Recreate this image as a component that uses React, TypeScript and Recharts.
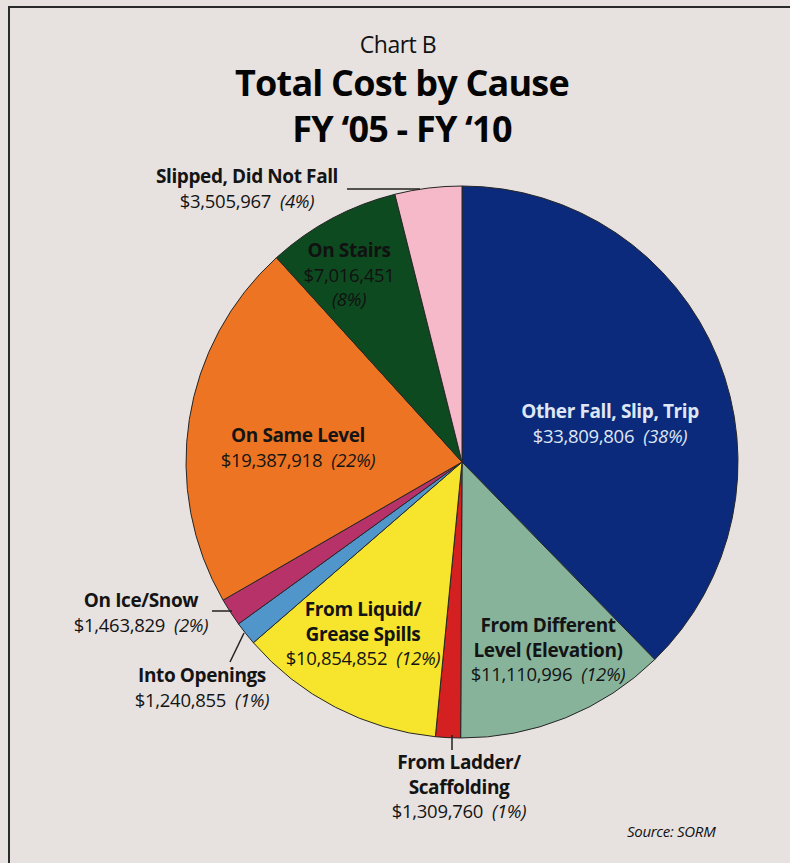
import React from "react";
import { PieChart, Pie, Cell } from "recharts";

const CAUSES = [
  "Other Fall, Slip, Trip",
  "From Different Level (Elevation)",
  "From Ladder/Scaffolding",
  "From Liquid/Grease Spills",
  "Into Openings",
  "On Ice/Snow",
  "On Same Level",
  "On Stairs",
  "Slipped, Did Not Fall",
];
const NAME_LINES = [
  ["Other Fall, Slip, Trip"],
  ["From Different", "Level (Elevation)"],
  ["From Ladder/", "Scaffolding"],
  ["From Liquid/", "Grease Spills"],
  ["Into Openings"],
  ["On Ice/Snow"],
  ["On Same Level"],
  ["On Stairs"],
  ["Slipped, Did Not Fall"],
];
const COSTS = [
  33809806, 11110996, 1309760, 10854852, 1240855, 1463829, 19387918, 7016451,
  3505967,
];
const COLORS = [
  "#0c2a7c",
  "#88b39b",
  "#d42020",
  "#f6e52c",
  "#5096cb",
  "#b8326a",
  "#ed7422",
  "#0e4a20",
  "#f5b9c9",
];

const TOTAL = COSTS.reduce((a, b) => a + b, 0);
const data = CAUSES.map((c, i) => ({ name: c, value: COSTS[i] }));

// label layout: center x / first baseline y relative to pie center
type LL = {
  dx: number;
  dy: number;
  color: string;
  splitPct?: boolean;
  leader?: [number, number, number, number];
};
const LABEL_LAYOUT: LL[] = [
  { dx: 148, dy: -44, color: "#dfe6f4" },
  { dx: 86, dy: 170, color: "#141414" },
  { dx: -3, dy: 307, color: "#141414", leader: [-10, 273, -10, 288] },
  { dx: -99, dy: 154, color: "#141414" },
  { dx: -260, dy: 220, color: "#141414", leader: [-218, 171, -232, 200] },
  { dx: -321, dy: 145, color: "#141414", leader: [-250, 149, -230, 149] },
  { dx: -164, dy: -20, color: "#141414" },
  { dx: -113, dy: -205, color: "#111111", splitPct: true },
  { dx: -215, dy: -279, color: "#141414", leader: [-115, -273, -42, -273] },
];

const FONT = "'Open Sans', 'Noto Sans', sans-serif";
const LINE = 24.5;
const BOLD_SIZE = 19;
const REG_SIZE = 18.5;

const fmt = (v: number) => "$" + v.toLocaleString("en-US");

const renderLabel = (props: any) => {
  const { cx, cy, index } = props;
  const L = LABEL_LAYOUT[index];
  const x = cx + L.dx;
  let y = cy + L.dy;
  const names = NAME_LINES[index];
  const pct = Math.round((COSTS[index] / TOTAL) * 100) + "%";
  const els: any[] = [];
  names.forEach((n, k) => {
    els.push(
      <text
        key={"n" + k}
        x={x}
        y={y}
        textAnchor="middle"
        fill={L.color}
        fontFamily={FONT}
        fontWeight={700}
        fontSize={BOLD_SIZE}
        letterSpacing={-0.4}
      >
        {n}
      </text>
    );
    y += LINE;
  });
  if (L.splitPct) {
    els.push(
      <text key="v" x={x} y={y} textAnchor="middle" fill={L.color} fontFamily={FONT} fontSize={REG_SIZE} letterSpacing={-0.3}>
        {fmt(COSTS[index])}
      </text>
    );
    y += LINE;
    els.push(
      <text key="p" x={x} y={y} textAnchor="middle" fill={L.color} fontFamily={FONT} fontSize={REG_SIZE} fontStyle="italic" letterSpacing={-0.3}>
        ({pct})
      </text>
    );
  } else {
    els.push(
      <text key="v" x={x} y={y} textAnchor="middle" fill={L.color} fontFamily={FONT} fontSize={REG_SIZE} letterSpacing={-0.3}>
        <tspan>{fmt(COSTS[index])}</tspan>
        <tspan dx={9} fontStyle="italic">({pct})</tspan>
      </text>
    );
  }
  return (
    <g key={"lab" + index}>
      {L.leader && (
        <line
          x1={cx + L.leader[0]}
          y1={cy + L.leader[1]}
          x2={cx + L.leader[2]}
          y2={cy + L.leader[3]}
          stroke="#222"
          strokeWidth={1.5}
        />
      )}
      {els}
    </g>
  );
};

export default function App() {
  return (
    <div
      style={{
        position: "absolute",
        left: 0,
        top: 0,
        width: 790,
        height: 863,
        background: "#e7e2e0",
        overflow: "hidden",
        fontFamily: FONT,
      }}
    >
      <div
        style={{
          position: "absolute",
          left: 8,
          top: 6,
          width: 800,
          height: 900,
          borderTop: "2px solid #2a2a2a",
          borderLeft: "2px solid #2a2a2a",
        }}
      />
      <div
        style={{
          position: "absolute",
          left: 0,
          width: 796,
          top: 28,
          textAlign: "center",
          fontSize: 23,
          color: "#111",
          letterSpacing: -0.5,
        }}
      >
        Chart B
      </div>
      <div
        style={{
          position: "absolute",
          left: 0,
          width: 804,
          top: 60,
          textAlign: "center",
          fontSize: 36,
          fontWeight: 700,
          color: "#050505",
          letterSpacing: -0.8,
          lineHeight: "46px",
        }}
      >
        Total Cost by Cause
        <br />
        FY ‘05 - FY ‘10
      </div>
      <div style={{ position: "absolute", left: 0, top: 0 }}>
        <PieChart width={790} height={863} margin={{ top: 0, right: 0, bottom: 0, left: 0 }}>
          <Pie
            data={data}
            dataKey="value"
            nameKey="name"
            cx={462}
            cy={462}
            outerRadius={276}
            startAngle={90}
            endAngle={-270}
            stroke="#262626"
            strokeWidth={1}
            label={renderLabel}
            labelLine={false}
            isAnimationActive={false}
          >
            {data.map((d, i) => (
              <Cell key={d.name} fill={COLORS[i]} />
            ))}
          </Pie>
        </PieChart>
      </div>
      <div
        style={{
          position: "absolute",
          left: 627,
          top: 821,
          fontSize: 15,
          fontStyle: "italic",
          color: "#111",
          letterSpacing: -0.3,
        }}
      >
        Source: SORM
      </div>
    </div>
  );
}
